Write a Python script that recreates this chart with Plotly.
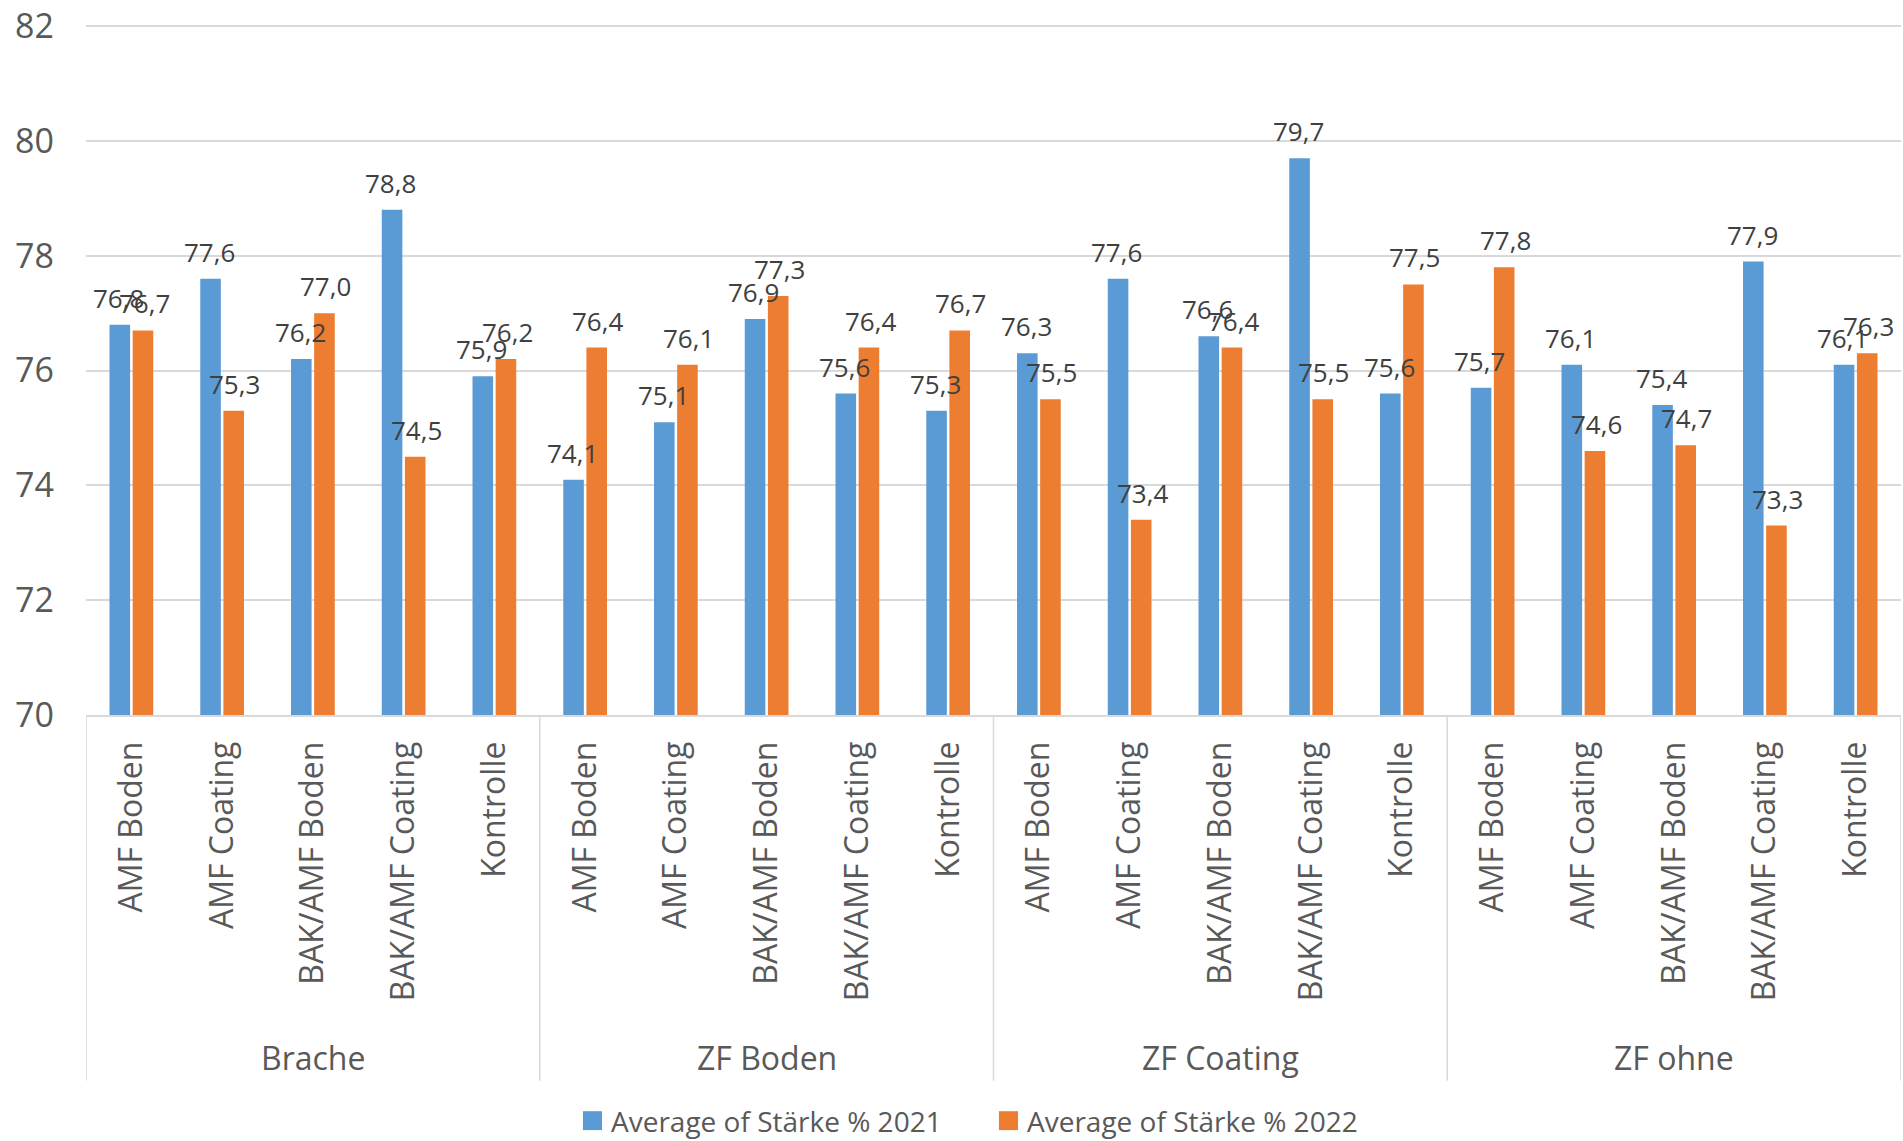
import plotly.graph_objects as go

# Versuchsgruppen (Vorfrucht) und Behandlungen
groups = ["Brache", "ZF Boden", "ZF Coating", "ZF ohne"]
treatments = ["AMF Boden", "AMF Coating", "BAK/AMF Boden", "BAK/AMF Coating", "Kontrolle"]

# Mittlerer Stärkegehalt (%) je Gruppe und Behandlung
starke_2021 = [76.8, 77.6, 76.2, 78.8, 75.9,
               74.1, 75.1, 76.9, 75.6, 75.3,
               76.3, 77.6, 76.6, 79.7, 75.6,
               75.7, 76.1, 75.4, 77.9, 76.1]
starke_2022 = [76.7, 75.3, 77.0, 74.5, 76.2,
               76.4, 76.1, 77.3, 76.4, 76.7,
               75.5, 73.4, 76.4, 75.5, 77.5,
               77.8, 74.6, 74.7, 73.3, 76.3]

series_names = ["Average of Stärke % 2021", "Average of Stärke % 2022"]
colors = ["#5B9BD5", "#ED7D31"]

# one category per (group, treatment) pair
keys = [f"{g} | {t}" for g in groups for t in treatments]
inner = [t for _ in groups for t in treatments]

fig = go.Figure()
for name, vals, col in zip(series_names, [starke_2021, starke_2022], colors):
    fig.add_trace(go.Bar(
        x=keys, y=vals, name=name,
        marker=dict(color=col, line=dict(width=0)),
        showlegend=False,
    ))

# Value labels above each bar (decimal comma)
offsets = [-12.8, 12.8]
for vals, dx in zip([starke_2021, starke_2022], offsets):
    for k, v in zip(keys, vals):
        fig.add_annotation(
            x=k, y=v, xref="x", yref="y", xshift=dx, yshift=7,
            text=f"{v:.1f}".replace(".", ","), showarrow=False,
            yanchor="bottom", xanchor="center",
            font=dict(family="Open Sans", size=26, color="#404040"),
        )

# Group labels and dividers of the two-level category axis
n_t = len(treatments)
for gi, g in enumerate(groups):
    fig.add_annotation(
        x=gi * n_t + (n_t - 1) / 2, y=-0.497, xref="x", yref="paper",
        text=g, showarrow=False, xanchor="center", yanchor="middle",
        font=dict(family="Open Sans", size=32, color="#595959"),
    )
for b in range(len(groups) + 1):
    fig.add_shape(type="line", xref="x", yref="paper",
                  x0=b * n_t - 0.5, x1=b * n_t - 0.5, y0=0, y1=-0.530,
                  line=dict(color="#D9D9D9", width=1.5))

# Legend drawn below the category axis
legend_x = [0.2738, 0.5030]
for name, col, lx in zip(series_names, colors, legend_x):
    fig.add_shape(type="rect", xref="paper", yref="paper",
                  x0=lx, x1=lx + 0.0105, y0=-0.5879 - 0.0137, y1=-0.5879 + 0.0137,
                  fillcolor=col, line=dict(width=0))
    fig.add_annotation(x=lx + 0.0145, y=-0.5879, xref="paper", yref="paper",
                       text=name, showarrow=False, xanchor="left", yanchor="middle",
                       font=dict(family="Open Sans", size=28, color="#595959"))

fig.update_layout(
    width=1903, height=1141,
    margin=dict(l=86, r=2, t=20, b=426),
    paper_bgcolor="white", plot_bgcolor="white",
    barmode="group", bargap=0.49, bargroupgap=0.11,
    showlegend=False,
    font=dict(family="Open Sans", color="#595959"),
)

fig.update_yaxes(
    range=[70, 82.02], tickvals=[70, 72, 74, 76, 78, 80, 82],
    showgrid=True, gridcolor="#D9D9D9", gridwidth=1.5,
    zeroline=False, showline=False, ticks="",
    tickfont=dict(family="Open Sans", size=34, color="#595959"),
    ticklabelstandoff=31, ticklabeloverflow="allow",
)
fig.update_xaxes(
    type="category", tickvals=keys, ticktext=inner, tickangle=-90,
    range=[-0.5, len(keys) - 0.5],
    showline=True, linecolor="#D9D9D9", linewidth=1.5,
    ticks="", showgrid=False,
    tickfont=dict(family="Open Sans", size=32, color="#595959"),
    ticklabelstandoff=12,
)

fig.write_html("out.html")
